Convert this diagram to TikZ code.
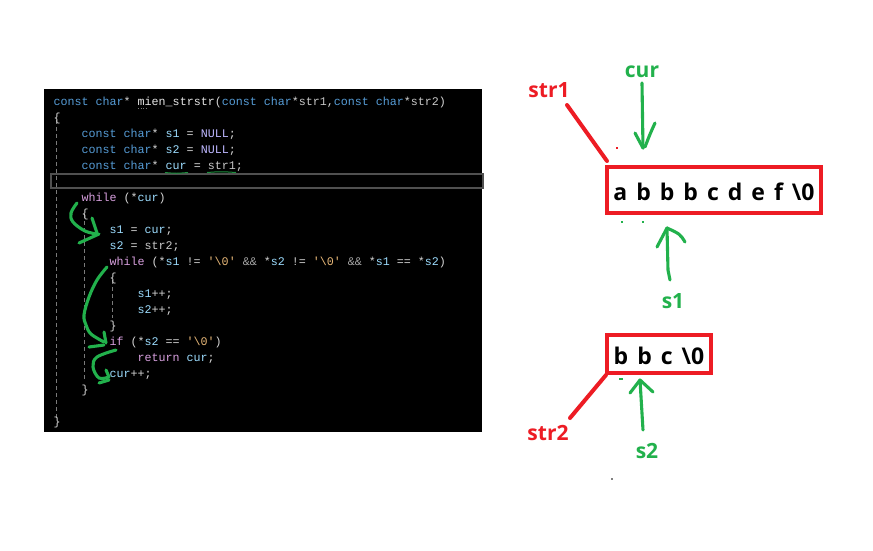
\documentclass[tikz,border=0pt]{standalone}
\usepackage{fontspec}
\setmainfont{Open Sans}
\newfontfamily\codefont{Liberation Mono}
\newfontfamily\labfont{Open Sans}
\definecolor{kwblue}{HTML}{569CD6}
\definecolor{ctlpink}{HTML}{D8A0DF}
\definecolor{idblue}{HTML}{9CDCFE}
\definecolor{pargrey}{HTML}{C8C8C8}
\definecolor{macpurple}{HTML}{BEB7FF}
\definecolor{strorange}{HTML}{E8B878}
\definecolor{fnwhite}{HTML}{E6E6E6}
\definecolor{opgrey}{HTML}{D4D4D4}
\definecolor{dimgrey}{HTML}{A8A8A8}
\definecolor{guidegrey}{HTML}{7A7A7A}
\definecolor{hlgrey}{HTML}{505050}
\definecolor{pgreen}{HTML}{22B14C}
\definecolor{pred}{HTML}{ED1C24}
\newcommand\ckw[1]{\textcolor{kwblue}{#1}}
\newcommand\cctl[1]{\textcolor{ctlpink}{#1}}
\newcommand\cid[1]{\textcolor{idblue}{#1}}
\newcommand\cpar[1]{\textcolor{pargrey}{#1}}
\newcommand\cmac[1]{\textcolor{macpurple}{#1}}
\newcommand\cstr[1]{\textcolor{strorange}{#1}}
\newcommand\cfn[1]{\textcolor{fnwhite}{#1}}
\newcommand\cdim[1]{\textcolor{dimgrey}{#1}}
\newcommand\widesp{\spaceskip=9pt\relax}
\begin{document}
\begin{tikzpicture}[x=1pt,y=-1pt,
  codeline/.style={anchor=base west,inner sep=0pt,text=opgrey,font=\codefont\fontsize{11.67}{14}\selectfont},
  guide/.style={guidegrey,line width=0.8pt,dash pattern=on 4pt off 3pt},
  pen/.style={pgreen,line width=3.1pt,line cap=round,line join=round},
  redpen/.style={pred,line width=4pt,line cap=round},
  glabel/.style={text=pgreen,anchor=base,inner sep=0pt,font=\labfont\bfseries\fontsize{21}{26}\selectfont},
  rlabel/.style={text=pred,anchor=base,inner sep=0pt,font=\labfont\bfseries\fontsize{21}{26}\selectfont},
  strbox/.style={draw=pred,line width=4pt,inner sep=0pt},
  strtext/.style={anchor=base,inner sep=0pt,text=black,font=\labfont\bfseries\fontsize{23}{28}\selectfont},
  dotmark/.style={inner sep=0pt,minimum size=2pt,fill=#1}
]
\useasboundingbox (0,0) rectangle (873,550);
\fill[white] (0,0) rectangle (873,550);
% code panel
\node[fill=black,inner sep=0pt,minimum width=438pt,minimum height=343pt,anchor=north west] (panel) at (44,89) {};
\draw[hlgrey,line width=1.8pt] (51,174) rectangle (483,188);
% guide lines
\draw[guide] (56.5,120) -- (56.5,418);
\draw[guide] (84.5,214) -- (84.5,381);
\draw[guide] (112.5,280) -- (112.5,318);
% code text
\node[codeline] (c1) at (53.5,105.5) {\ckw{const} \ckw{char}* \cfn{mien\_strstr}(\ckw{const} \ckw{char}*\cpar{str1},\ckw{const} \ckw{char}*\cpar{str2})};
\node[codeline] (c2) at (53.5,121.5) {\{};
\node[codeline] (c3) at (81.5,137.5) {\ckw{const} \ckw{char}* \cid{s1} = \cmac{NULL};};
\node[codeline] (c4) at (81.5,153.5) {\ckw{const} \ckw{char}* \cid{s2} = \cmac{NULL};};
\node[codeline] (c5) at (81.5,169.5) {\ckw{const} \ckw{char}* \cid{cur} = \cpar{str1};};
\node[codeline] (c7) at (81.5,201.5) {\cctl{while} (*\cid{cur})};
\node[codeline] (c8) at (81.5,217.5) {\{};
\node[codeline] (c9) at (109.5,233.5) {\cid{s1} = \cid{cur};};
\node[codeline] (c10) at (109.5,249.5) {\cid{s2} = \cpar{str2};};
\node[codeline] (c11) at (109.5,265.5) {\cctl{while} (*\cid{s1} != \cstr{'\textbackslash{}0'} \cdim{\&\&} *\cid{s2} != \cstr{'\textbackslash{}0'} \cdim{\&\&} *\cid{s1} == *\cid{s2})};
\node[codeline] (c12) at (109.5,281.5) {\{};
\node[codeline] (c13) at (137.5,297.5) {\cid{s1}++;};
\node[codeline] (c14) at (137.5,313.5) {\cid{s2}++;};
\node[codeline] (c15) at (109.5,329.5) {\}};
\node[codeline] (c16) at (109.5,345.5) {\cctl{if} (*\cid{s2} == \cstr{'\textbackslash{}0'})};
\node[codeline] (c17) at (137.5,361.5) {\cctl{return} \cid{cur};};
\node[codeline] (c18) at (109.5,377.5) {\cid{cur}++;};
\node[codeline] (c19) at (81.5,393.5) {\}};
\node[codeline] (c21) at (53.5,425.5) {\}};
% editor underlines
\draw[guidegrey,line width=0.8pt,dash pattern=on 1pt off 1.5pt] (138,108.5) -- (148,108.5);
\draw[pgreen!80!black,line width=1pt] (165,172.5) .. controls (176,173.5) .. (188,172.5);
\draw[pgreen!80!black,line width=1pt] (207,172.5) .. controls (221,171.5) .. (236,172.5);
% hand-drawn green arrows in code
\draw[pen] plot[smooth,tension=0.6] coordinates {(77,203) (71,213) (73,222) (85,231) (97,234)};
\draw[pen] (92,218) -- (97,233);
\draw[pen] (79,243) -- (99,234);
\draw[pen] plot[smooth,tension=0.6] coordinates {(107,267) (97,280) (89,297) (84,315) (86,325) (91,334) (104,342)};
\draw[pen] (104,332) -- (106,343);
\draw[pen] (89,347) -- (104,345);
\draw[pen] plot[smooth,tension=0.6] coordinates {(116,350) (97,357) (93,367) (99,378) (109,377)};
\draw[pen] (106,370) -- (109,377);
\draw[pen] (99,383) -- (109,380);
% right side: string boxes
\node[strbox,minimum width=214pt,minimum height=46pt] (box1) at (714,190) {};
\node[strtext] (box1txt) at (714,200) {\widesp a b b b c d e f \textbackslash 0};
\node[strbox,minimum width=104pt,minimum height=38pt] (box2) at (659,354) {};
\node[strtext] (box2txt) at (659,364) {\widesp b b c \textbackslash 0};
% labels
\node[rlabel] (str1lbl) at (549,97) {str1};
\node[glabel] (curlbl) at (642,77) {cur};
\node[glabel] (s1lbl) at (673,308) {s1};
\node[rlabel] (str2lbl) at (548,440) {str2};
\node[glabel] (s2lbl) at (647,458) {s2};
% red pointers
\coordinate (r1a) at (567,105);
\coordinate (r2a) at (570,418);
\draw[redpen] (r1a) -- ([shift={(2,-4)}]box1.north west);
\draw[redpen] (r2a) -- ([shift={(1,0)}]box2.south west);
% green pointers
\coordinate (curtip) at (643,148);
\draw[pen] (642,83) -- (curtip);
\draw[pen] (635,133) -- (curtip);
\draw[pen] (655,123) .. controls (650,134) .. (645,147);
\coordinate (s1tip) at (667,228);
\draw[pen] (670,280) -- (668,270) -- (s1tip);
\draw[pen] (657,247) -- (s1tip);
\draw[pen] (s1tip) .. controls (680,234) .. (685,242);
\coordinate (s2tip) at (640,380);
\draw[pen] (643,430) -- (s2tip);
\draw[pen] (630,393) -- (s2tip);
\draw[pen] (s2tip) -- (653,392);
% tiny stray marks
\node[dotmark=pred] (m1) at (617,148) {};
\node[dotmark=pgreen] (m2) at (622,222) {};
\node[dotmark=pgreen] (m3) at (643,222) {};
\node[dotmark=pgreen,minimum width=4pt,minimum height=1.5pt] (m4) at (621,379) {};
\node[dotmark=black!50] (m5) at (612,479) {};
\end{tikzpicture}
\end{document}
